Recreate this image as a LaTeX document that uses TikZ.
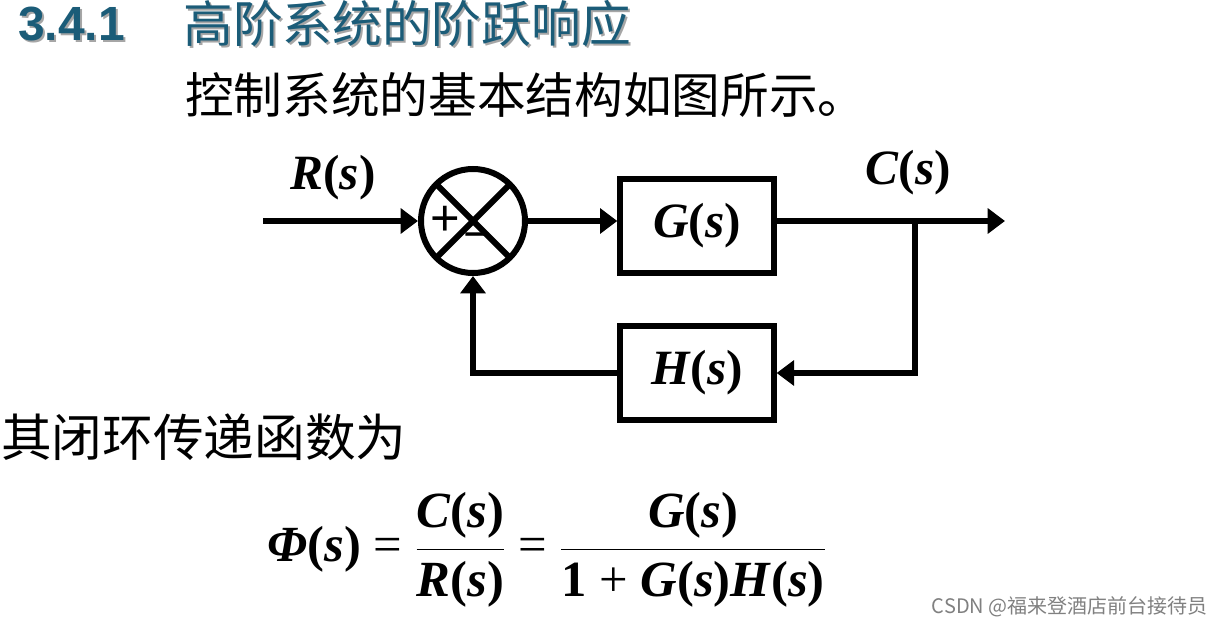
\RequirePackage{fix-cm}
\documentclass[tikz,border=0pt]{standalone}
\usepackage{fontspec}
\setmainfont{Liberation Serif}
\newfontfamily\cjk{Noto Sans CJK SC}
\newfontfamily\arialf{Liberation Sans}
\usetikzlibrary{arrows.meta,positioning}
\definecolor{titleblue}{HTML}{1B5C78}
\newcommand{\bi}[1]{\textbf{\textit{#1}}}
\newcommand{\bu}[1]{\textbf{#1}}
\newcommand{\tf}[1]{\bi{#1}\bu{(}\bi{s}\bu{)}}

\begin{document}
\begin{tikzpicture}[x=0.75pt, y=-0.75pt,
  blk/.style={draw, line width=4.5pt, minimum width=115pt, minimum height=71pt, inner sep=0pt,
    font=\fontsize{37}{44}\selectfont},
  sig/.style={line width=5pt, -{Triangle[length=13pt,width=18.5pt]}},
  lbl/.style={font=\fontsize{37}{44}\selectfont, inner sep=0pt},
  cn/.style={font=\cjk\fontsize{36.5}{44}\selectfont, inner sep=0pt, anchor=west},
  ttl/.style={inner sep=0pt, anchor=west, text=titleblue},
  shd/.style={inner sep=0pt, anchor=west, text=black!35}
]
\useasboundingbox (0,0) rectangle (1223,627);

\node[shd, font=\arialf\bfseries\fontsize{36}{40}\selectfont] at (20,26) {3.4.1};
\node[ttl, font=\arialf\bfseries\fontsize{36}{40}\selectfont] (num) at (18,24) {3.4.1};
\node[shd, font=\cjk\fontsize{37.3}{40}\selectfont] at (185,26) {高阶系统的阶跃响应};
\node[ttl, font=\cjk\fontsize{37.3}{40}\selectfont] (title) at (183,24) {高阶系统的阶跃响应};

\node[cn] (intro) at (185,95) {控制系统的基本结构如图所示。};

\node[draw, circle, line width=4.5pt, minimum size=78pt, inner sep=0pt] (sum) at (473,221) {};
\draw[line width=4.5pt, shorten <=2pt, shorten >=2pt] (sum.45) -- (sum.225);
\draw[line width=4.5pt, shorten <=2pt, shorten >=2pt] (sum.135) -- (sum.-45);
\node[font=\arialf\fontsize{38}{40}\selectfont, inner sep=0pt] (plus) at (445,221) {+};
\node[font=\arialf\fontsize{36}{40}\selectfont, inner sep=0pt] (minus) at (478,242) {−};

\node[blk] (G) at (697,226) {\tf{G}};
\node[blk] (H) at (697,373) {\tf{H}};

\coordinate (in) at (263,221);
\coordinate (out) at (1005,221);
\coordinate (br) at (915,221);

\draw[sig] (in) -- (sum.west);
\draw[sig] (sum.east) -- (sum.east -| G.west);
\draw[sig] (sum.east -| G.east) -- (out);
\draw[sig] (br) |- (H.east);
\draw[sig] (H.west) -| (sum.south);

\node[lbl] (rlab) at (333,178) {\tf{R}};
\node[lbl] (clab) at (908,173) {\tf{C}};

\node[cn, font=\cjk\fontsize{38}{44}\selectfont] (closed) at (1,437) {其闭环传递函数为};

\node[font=\fontsize{38}{44}\selectfont] (phi) at (547,550)
  {$\displaystyle \tf{Φ}\mbox{ = }\frac{\tf{C}}{\tf{R}}\mbox{ = }\frac{\tf{G}}{\bu{1}\mbox{ + }\tf{G}\tf{H}}$};

\node[font=\cjk\fontsize{15}{18}\selectfont, text=black!50, anchor=east, inner sep=0pt] (mark) at (1208,607)
  {CSDN @福来登酒店前台接待员};
\end{tikzpicture}
\end{document}
